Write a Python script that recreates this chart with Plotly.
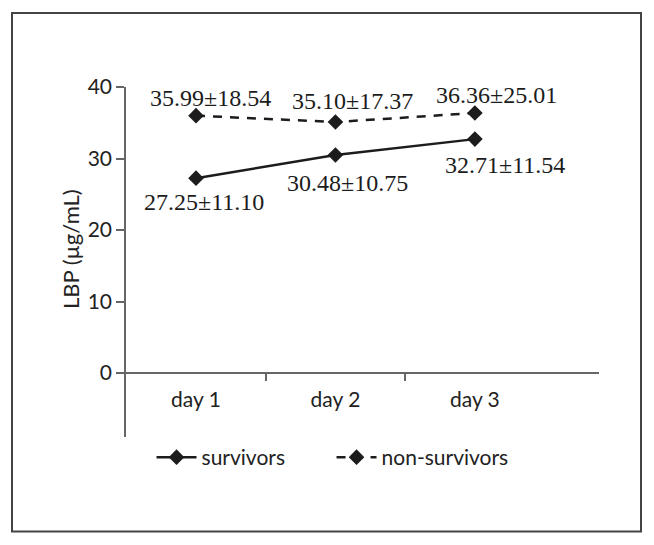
import plotly.graph_objects as go

categories = ["day 1", "day 2", "day 3"]
survivors_mean = [27.25, 30.48, 32.71]
survivors_sd = [11.10, 10.75, 11.54]
nonsurv_mean = [35.99, 35.10, 36.36]
nonsurv_sd = [18.54, 17.37, 25.01]
y_ticks = [0, 10, 20, 30, 40]
y_title = "LBP (µg/mL)"

x_idx = list(range(len(categories)))
SANS = "Lato, 'Open Sans', sans-serif"
SERIF = "'Liberation Serif', 'DejaVu Serif', serif"
INK = "#1c1c1c"

fig = go.Figure()
fig.add_trace(go.Scatter(
    x=x_idx, y=survivors_mean, name="survivors", mode="lines+markers",
    line=dict(color=INK, width=2.5),
    marker=dict(symbol="diamond", size=12, color=INK),
))
fig.add_trace(go.Scatter(
    x=x_idx, y=nonsurv_mean, name="non-survivors", mode="lines+markers",
    line=dict(color=INK, width=2.5, dash="9px,8px"),
    marker=dict(symbol="diamond", size=12, color=INK),
))

# value labels
s_shift = [(8, -24), (12, -28), (30, -26)]
n_shift = [(14, 18), (17, 21), (22, 18)]
for i in x_idx:
    fig.add_annotation(x=i, y=survivors_mean[i],
                       text=f"{survivors_mean[i]:.2f}±{survivors_sd[i]:.2f}",
                       showarrow=False, xshift=s_shift[i][0], yshift=s_shift[i][1],
                       font=dict(family=SERIF, size=24, color=INK))
    fig.add_annotation(x=i, y=nonsurv_mean[i],
                       text=f"{nonsurv_mean[i]:.2f}±{nonsurv_sd[i]:.2f}",
                       showarrow=False, xshift=n_shift[i][0], yshift=n_shift[i][1],
                       font=dict(family=SERIF, size=24, color=INK))

# y-axis title
fig.add_annotation(xref="paper", yref="paper", x=-0.1184, y=0.537,
                   text=y_title, textangle=-90, showarrow=False,
                   xanchor="center", yanchor="middle",
                   font=dict(family=SANS, size=22, color="#222"))

ymin, ymax = -8.95, 40
fig.update_layout(
    width=654, height=545,
    margin=dict(l=118, r=63, t=79, b=116),
    paper_bgcolor="white", plot_bgcolor="white",
    font=dict(family=SANS, size=21, color="#222"),
    showlegend=True,
    legend=dict(orientation="h", x=0.054, xanchor="left", y=0.0, yanchor="top",
                font=dict(family=SANS, size=21, color="#222"),
                entrywidth=125, entrywidthmode="pixels",
                itemwidth=40, bgcolor="rgba(0,0,0,0)"),
    xaxis=dict(
        range=[-0.502, 2.89], showgrid=False, zeroline=False,
        showline=True, linecolor="#666", linewidth=1.5,
        anchor="free", position=(0 - ymin) / (ymax - ymin),
        tickvals=x_idx, ticktext=categories, ticks="",
        ticklabelstandoff=8,
        tickfont=dict(family=SANS, size=21, color="#222"),
        minor=dict(tickvals=[0.5, 1.5], ticks="outside", ticklen=7,
                   tickcolor="#666", tickwidth=1.5),
    ),
    yaxis=dict(
        range=[ymin, ymax], showgrid=False, zeroline=False,
        showline=True, linecolor="#666", linewidth=1.5,
        tickvals=y_ticks, ticks="outside", ticklen=8, tickcolor="#666", tickwidth=1.5,
        tickfont=dict(family=SANS, size=21, color="#222"),
    ),
    shapes=[dict(type="rect", xref="paper", yref="paper",
                 x0=-0.241, x1=1.0888, y0=-0.27, y1=1.2114,
                 line=dict(color="#444", width=2))],
)

fig.write_html("out.html")
